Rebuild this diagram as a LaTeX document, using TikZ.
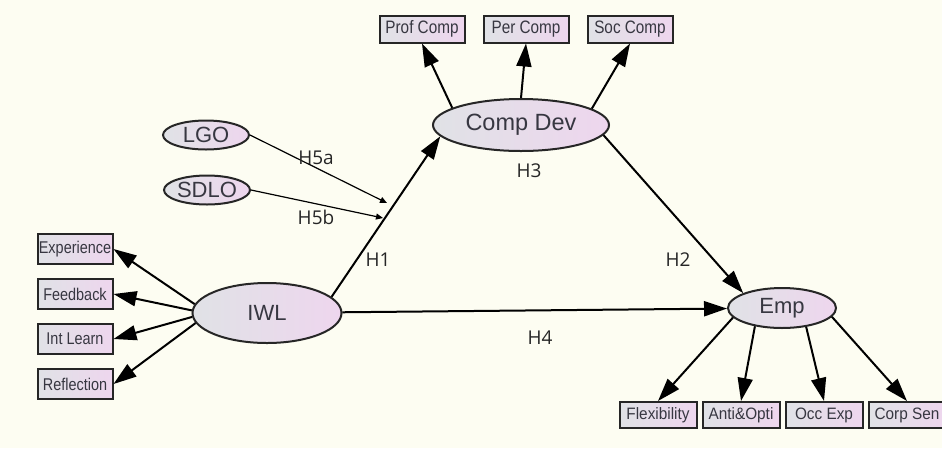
\documentclass[tikz,border=0pt]{standalone}
\usepackage{fontspec}
\setmainfont{Liberation Sans}
\newfontfamily\hypfont{Open Sans}
\newfontfamily\boxfont[FakeStretch=0.85]{Liberation Sans}
\newfontfamily\rowfont[FakeStretch=0.93]{Liberation Sans}
\usetikzlibrary{shapes.geometric,arrows.meta,positioning}
\definecolor{paper}{RGB}{253,253,242}
\definecolor{shadeL}{RGB}{224,226,230}
\definecolor{shadeR}{RGB}{238,214,238}
\definecolor{ink}{RGB}{55,55,65}

\begin{document}
\begin{tikzpicture}[
    x=1pt, y=-1pt,
    latent/.style={ellipse, draw=black!85, line width=2pt, left color=shadeL, right color=shadeR, inner sep=0pt, text=ink, font=\fontsize{22}{24}\selectfont},
    indicator/.style={rectangle, draw=black!85, line width=2pt, left color=shadeL, right color=shadeR, inner sep=0pt, text=ink, font=\boxfont\fontsize{18}{20}\selectfont},
    arrow/.style={line width=2pt, -{Triangle[length=23pt,width=15pt]}},
    moderate/.style={line width=1.2pt, -{Triangle[length=7pt,width=6pt]}},
    hyp/.style={font=\hypfont\fontsize{19}{21}\selectfont, text=black!85}
]
    \useasboundingbox (0,0) rectangle (942,448);
    \fill[paper] (0,0) rectangle (942,448);

    % Latent constructs
    \node[latent, minimum width=176pt, minimum height=52pt, font=\fontsize{23.5}{25}\selectfont] (cd) at (521,125) {Comp Dev};
    \node[latent, minimum width=149pt, minimum height=60pt] (iwl) at (267,313) {IWL};
    \node[latent, minimum width=108pt, minimum height=40pt] (emp) at (782,308) {Emp};
    \node[latent, minimum width=86pt, minimum height=29pt] (lgo) at (206,135) {LGO};
    \node[latent, minimum width=86pt, minimum height=29pt] (sdlo) at (207,190) {SDLO};

    % Competence dimensions
    \node[indicator, minimum width=85pt, minimum height=27pt] (pc) at (422,29) {Prof Comp};
    \node[indicator, minimum width=85pt, minimum height=27pt, right=17pt of pc] (pe) {Per Comp};
    \node[indicator, minimum width=85pt, minimum height=27pt, right=17pt of pe] (sc) {Soc Comp};

    % IWL indicators
    \node[indicator, minimum width=75pt, minimum height=30pt, font=\boxfont\fontsize{17}{19}\selectfont] (exp) at (75,249) {Experience};
    \node[indicator, minimum width=75pt, minimum height=30pt, font=\boxfont\fontsize{17}{19}\selectfont, below=13pt of exp] (fb) {Feedback};
    \node[indicator, minimum width=75pt, minimum height=30pt, font=\boxfont\fontsize{17}{19}\selectfont, below=13pt of fb] (il) {Int Learn};
    \node[indicator, minimum width=75pt, minimum height=30pt, font=\boxfont\fontsize{17}{19}\selectfont, below=13pt of il] (refl) {Reflection};

    % Employability indicators
    \node[indicator, minimum width=77pt, minimum height=26pt, font=\rowfont\fontsize{16.5}{18}\selectfont] (flex) at (658,415) {Flexibility};
    \node[indicator, minimum width=77pt, minimum height=26pt, font=\rowfont\fontsize{16.5}{18}\selectfont, right=4pt of flex] (anti) {Anti\&Opti};
    \node[indicator, minimum width=77pt, minimum height=26pt, font=\rowfont\fontsize{16.5}{18}\selectfont, right=4pt of anti] (occ) {Occ Exp};
    \node[indicator, minimum width=77pt, minimum height=26pt, font=\rowfont\fontsize{16.5}{18}\selectfont, right=4pt of occ] (corp) {Corp Sen};

    % Structural paths
    \draw[arrow] (iwl.14) -- (cd.188);
    \draw[arrow] (cd.-7) -- (emp.159);
    \draw[arrow] (iwl) -- (emp);

    % Moderating effects
    \coordinate (j5a) at (387,203);
    \coordinate (j5b) at (383,218);
    \draw[moderate] (lgo.east) -- (j5a);
    \draw[moderate] (sdlo.east) -- (j5b);

    % Measurement arrows
    \draw[arrow] (cd.166) -- (pc.south);
    \draw[arrow] (cd.north) -- (pe.south);
    \draw[arrow] (cd.13) -- (sc.south);
    \draw[arrow] (iwl.173) -- (exp.east);
    \draw[arrow] (iwl.178) -- (fb.east);
    \draw[arrow] (iwl.183) -- (il.east);
    \draw[arrow] (iwl.188) -- (refl.east);
    \draw[arrow] (emp.191) -- (flex.north);
    \draw[arrow] (emp.214) -- (anti.north);
    \draw[arrow] (emp.322) -- (occ.north);
    \draw[arrow] (emp.350) -- (corp.north);

    % Hypothesis labels
    \node[hyp] (h5a) at (316,158) {H5a};
    \node[hyp] (h5b) at (316,217) {H5b};
    \node[hyp] (h1) at (378,260) {H1};
    \node[hyp] (h3) at (529,171) {H3};
    \node[hyp] (h2) at (678,260) {H2};
    \node[hyp] (h4) at (540,338) {H4};
\end{tikzpicture}
\end{document}
